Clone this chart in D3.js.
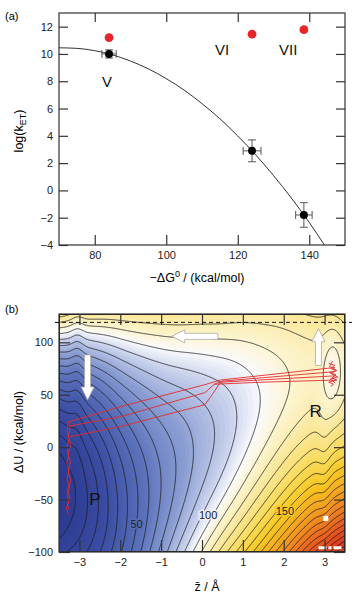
<!DOCTYPE html>
<html>
<head>
<meta charset="utf-8">
<script src="https://cdn.jsdelivr.net/npm/d3@7"></script>
<style>
body { margin: 0; background: #fff; }
svg { display: block; font-family: "Liberation Sans", Arial, sans-serif; }
</style>
</head>
<body>
<svg id="chart" width="357" height="596"></svg>
<script>
// ---- panel (a): rate vs driving force ----
const seriesNames = ['V', 'VI', 'VII'];
const minusDG = [84, 124, 138.5];
const logK = [10.0, 2.9, -1.8];
const minusDGErr = [2.0, 2.5, 2.3];
const logKErr = [0.3, 0.8, 0.9];
const logKCalc = [11.2, 11.45, 11.78];
const nameG = [83.4, 115.6, 134.1];
const nameLogK = [7.6, 9.9, 9.9];
// fitted curve
const fitG = [70, 75, 80, 85, 90, 95, 100, 105, 110, 115, 120, 125, 130, 135, 140, 145];
const fitLogK = [10.45, 10.41, 10.24, 9.93, 9.48, 8.91, 8.19, 7.35, 6.36, 5.25, 3.99, 2.61, 1.09, -0.56, -2.35, -4.3];
const xTicksA = [80, 100, 120, 140];
const yTicksA = [-4, -2, 0, 2, 4, 6, 8, 10, 12];

// ---- panel (b): free energy surface F(z, dU) ----
const zTicks = [-3, -2, -1, 0, 1, 2, 3];
const uTicks = [-100, -50, 0, 50, 100];
// per column of z: position, curvature and depth of the well along dU
const zKnots = [-3.5, -3, -2.5, -2, -1.5, -1, -0.5, 0, 0.5, 1, 1.5, 2, 2.5, 3, 3.5];
const wellU = [-46, -50, -55, -59, -52, -35, -15, 3, 18, 33, 47, 60, 68, 72, 73];
const wellK = [238, 278, 337, 420, 465, 469, 427, 406, 374, 384, 370, 345, 300, 260, 230];
const wellF = [0, 9, 22, 38, 52, 65, 74, 82, 88, 95, 101, 106, 110, 112, 114];
// local dips (bumps of the contours near the electrodes, basin R)
const dipZ = [-3.05, 3.22, 3.0];
const dipU = [80, 71, -20];
const dipDepth = [5, 10, 5];
const dipSZ = [0.12, 0.18, 0.12];
const dipSU = [60, 35, 50];
const levelStep = 50 / 7;
const labelLevels = [50, 100, 150];
const labelZ = [-1.6, 0.15, 2.03];
const labelU = [-77, -69, -65];
const colorF = [0, 30, 55, 75, 90, 100, 108, 118, 135, 150, 168, 188, 208, 230];
const colorHex = ['#2b3990', '#3d50a5', '#5b72bb', '#8a9dd2', '#c5cfeb', '#fafafd', '#fdf4cf', '#fbe9a0',
  '#f9da5a', '#f7c822', '#f4a61f', '#ef7d20', '#e6571f', '#dd381e'];
const dashedU = 119;

const trajectories = [
  [[-3.28, 24], [-1.96, 39], [0.07, 59.6], [0.45, 64], [3.25, 76]],
  [[-3.26, 20], [-1.96, 29.4], [0.07, 52], [0.3, 60], [0.5, 63], [3.25, 72]],
  [[-3.22, 10], [-1.96, 20], [0.07, 40.5], [0.25, 50], [0.45, 62], [3.25, 68]],
  [[0.3, 60], [1.5, 62], [3.25, 64]]
];
const scribbleP = [
  [[-3.27, 24], [-3.3, 15], [-3.25, 8], [-3.3, 0], [-3.26, -8], [-3.31, -15], [-3.25, -22], [-3.3, -30], [-3.24, -38], [-3.3, -45], [-3.26, -52], [-3.32, -58], [-3.27, -64]],
  [[-3.22, 20], [-3.27, 10], [-3.21, 2], [-3.28, -6], [-3.22, -14], [-3.27, -24], [-3.21, -32], [-3.29, -41], [-3.23, -48], [-3.3, -55], [-3.24, -60]]
];
const scribbleR = [
  [[3.1, 80], [3.25, 78], [3.15, 75], [3.3, 73], [3.12, 71], [3.28, 69], [3.18, 66], [3.3, 64], [3.1, 62], [3.22, 60], [3.15, 58]],
  [[3.2, 82], [3.12, 77], [3.27, 74], [3.17, 70], [3.32, 67], [3.14, 65], [3.26, 61]]
];
// white arrows: [z0, U0, z1, U1]
const arrows = [[-2.8, 88, -2.8, 45], [0.39, 105.7, -0.74, 105.7], [2.85, 78, 2.85, 113]];

const svg = d3.select('#chart');

// ================= panel (a) =================
const xA = d3.scaleLinear().domain([70, 150]).range([59, 345]);
const yA = d3.scaleLinear().domain([-4, 13]).range([245, 13]);

svg.append('clipPath').attr('id', 'clipA')
  .append('rect').attr('x', 59).attr('y', 13).attr('width', 286).attr('height', 232);

const gA = svg.append('g');

gA.append('path')
  .datum(fitG.map((g, i) => [g, fitLogK[i]]))
  .attr('clip-path', 'url(#clipA)')
  .attr('fill', 'none')
  .attr('stroke', '#333')
  .attr('stroke-width', 1)
  .attr('d', d3.line().x(d => xA(d[0])).y(d => yA(d[1])).curve(d3.curveMonotoneX));

// error bars
minusDG.forEach((g, i) => {
  const eb = gA.append('g').attr('stroke', '#555').attr('stroke-width', 1);
  eb.append('line').attr('x1', xA(g - minusDGErr[i])).attr('x2', xA(g + minusDGErr[i]))
    .attr('y1', yA(logK[i])).attr('y2', yA(logK[i]));
  eb.append('line').attr('x1', xA(g)).attr('x2', xA(g))
    .attr('y1', yA(logK[i] - logKErr[i])).attr('y2', yA(logK[i] + logKErr[i]));
  [g - minusDGErr[i], g + minusDGErr[i]].forEach(v => eb.append('line')
    .attr('x1', xA(v)).attr('x2', xA(v)).attr('y1', yA(logK[i]) - 4).attr('y2', yA(logK[i]) + 4));
  [logK[i] - logKErr[i], logK[i] + logKErr[i]].forEach(v => eb.append('line')
    .attr('x1', xA(g) - 4).attr('x2', xA(g) + 4).attr('y1', yA(v)).attr('y2', yA(v)));
});

gA.selectAll('circle.meas').data(minusDG).enter().append('circle')
  .attr('class', 'meas')
  .attr('cx', d => xA(d)).attr('cy', (d, i) => yA(logK[i])).attr('r', 4).attr('fill', '#000');

gA.selectAll('circle.calc').data(minusDG).enter().append('circle')
  .attr('class', 'calc')
  .attr('cx', d => xA(d)).attr('cy', (d, i) => yA(logKCalc[i])).attr('r', 4.4).attr('fill', '#e8262a');

gA.selectAll('text.name').data(seriesNames).enter().append('text')
  .attr('class', 'name')
  .attr('x', (d, i) => xA(nameG[i])).attr('y', (d, i) => yA(nameLogK[i]))
  .attr('text-anchor', 'middle').attr('font-size', 15).attr('fill', '#111')
  .text(d => d);

function styleAxis(g) {
  g.select('.domain').remove();
  g.selectAll('.tick line').attr('stroke', '#333').attr('stroke-width', 1.2);
  g.selectAll('.tick text').attr('font-size', 11).attr('fill', '#222')
    .attr('font-family', '"Liberation Sans", Arial, sans-serif');
}

gA.append('g').attr('transform', 'translate(0,245)')
  .call(d3.axisBottom(xA).tickValues(xTicksA).tickSize(-10).tickPadding(6)).call(styleAxis);
gA.append('g').attr('transform', 'translate(0,13)')
  .call(d3.axisTop(xA).tickValues(xTicksA).tickSize(-9).tickFormat('')).call(styleAxis);
gA.append('g').attr('transform', 'translate(59,0)')
  .call(d3.axisLeft(yA).tickValues(yTicksA).tickSize(-9).tickPadding(6)).call(styleAxis);
gA.append('g').attr('transform', 'translate(345,0)')
  .call(d3.axisRight(yA).tickValues(yTicksA).tickSize(-9).tickFormat('')).call(styleAxis);

gA.append('rect').attr('x', 59).attr('y', 13).attr('width', 286).attr('height', 232)
  .attr('fill', 'none').attr('stroke', '#333').attr('stroke-width', 1.2);

svg.append('text').attr('x', 5).attr('y', 20).attr('font-size', 11).text('(a)');

const xTitleA = svg.append('text').attr('x', 197).attr('y', 282)
  .attr('text-anchor', 'middle').attr('font-size', 12.5);
xTitleA.append('tspan').text('\u2212\u0394G');
xTitleA.append('tspan').attr('font-size', 9).attr('dy', -5).text('0');
xTitleA.append('tspan').attr('dy', 5).text(' / (kcal/mol)');

const yTitleA = svg.append('text').attr('transform', 'translate(23,131) rotate(-90)')
  .attr('text-anchor', 'middle').attr('font-size', 12.5);
yTitleA.append('tspan').text('log(k');
yTitleA.append('tspan').attr('font-size', 9).attr('dy', 3).text('ET');
yTitleA.append('tspan').attr('dy', -3).text(')');

// ================= panel (b) =================
const xB = d3.scaleLinear().domain([-3.5, 3.5]).range([59, 345]);
const yB = d3.scaleLinear().domain([-100, 127]).range([552, 314]);
const x0 = 59, y0 = 314, nx = 286, ny = 238;

const iU = d3.interpolateBasis(wellU);
const iK = d3.interpolateBasis(wellK);
const iF = d3.interpolateBasis(wellF);

function fieldAt(z, u) {
  const t = (z - zKnots[0]) / (zKnots[zKnots.length - 1] - zKnots[0]);
  const m = iU(t), k = iK(t), c = iF(t);
  let f = c + (u - m) * (u - m) / k;
  dipZ.forEach((dz, i) => {
    f -= dipDepth[i] * Math.exp(-0.5 * ((z - dz) / dipSZ[i]) ** 2 - 0.5 * ((u - dipU[i]) / dipSU[i]) ** 2);
  });
  return f;
}

const values = new Array(nx * ny);
for (let j = 0; j < ny; j++) {
  for (let i = 0; i < nx; i++) {
    values[j * nx + i] = fieldAt(xB.invert(x0 + i + 0.5), yB.invert(y0 + j + 0.5));
  }
}

const color = d3.scaleLinear().domain(colorF).range(colorHex).clamp(true);

svg.append('clipPath').attr('id', 'clipB')
  .append('rect').attr('x', x0).attr('y', y0).attr('width', nx).attr('height', ny);

const gB = svg.append('g');
const gMap = gB.append('g').attr('clip-path', 'url(#clipB)');
const gGrid = gMap.append('g').attr('transform', `translate(${x0},${y0})`);
const geo = d3.geoPath();

gGrid.append('rect').attr('width', nx).attr('height', ny).attr('fill', color(d3.min(values)));
const bandLevels = d3.range(-4, 262, 1.5);
gGrid.selectAll('path.band')
  .data(d3.contours().size([nx, ny]).thresholds(bandLevels)(values))
  .enter().append('path')
  .attr('class', 'band')
  .attr('d', geo)
  .attr('fill', d => color(d.value + 0.75));

const lineLevels = d3.range(1, 40).map(k => k * levelStep);
gGrid.selectAll('path.iso')
  .data(d3.contours().size([nx, ny]).thresholds(lineLevels)(values))
  .enter().append('path')
  .attr('class', 'iso')
  .attr('d', geo)
  .attr('fill', 'none')
  .attr('stroke', '#1a1a1a')
  .attr('stroke-width', 0.8);

// contour labels, with a halo of the local colour to break the line
gMap.selectAll('text.clab').data(labelLevels).enter().append('text')
  .attr('class', 'clab')
  .attr('x', (d, i) => xB(labelZ[i])).attr('y', (d, i) => yB(labelU[i]))
  .attr('text-anchor', 'middle').attr('font-size', 11).attr('fill', '#222')
  .attr('stroke', (d, i) => color(fieldAt(labelZ[i], labelU[i] + 4)))
  .attr('stroke-width', 3).attr('paint-order', 'stroke')
  .text(d => d);

// white markers bottom right
gMap.append('rect').attr('x', xB(3.03) - 2.5).attr('y', yB(-68) - 2.5)
  .attr('width', 5).attr('height', 5).attr('fill', '#fff');
gMap.append('line').attr('x1', xB(2.85)).attr('x2', xB(3.45)).attr('y1', yB(-96)).attr('y2', yB(-96))
  .attr('stroke', '#fff').attr('stroke-width', 3).attr('stroke-dasharray', '8,2,3,2');

// trajectories
const lineB = d3.line().x(d => xB(d[0])).y(d => yB(d[1]));
gMap.selectAll('path.traj').data(trajectories.concat(scribbleP, scribbleR)).enter().append('path')
  .attr('class', 'traj')
  .attr('d', lineB)
  .attr('fill', 'none')
  .attr('stroke', '#e52a2a')
  .attr('stroke-width', 0.9);

// white arrows
arrows.forEach(a => {
  const p0 = [xB(a[0]), yB(a[1])], p1 = [xB(a[2]), yB(a[3])];
  const dx = p1[0] - p0[0], dy = p1[1] - p0[1];
  const len = Math.hypot(dx, dy), ux = dx / len, uy = dy / len, px = -uy, py = ux;
  const hl = 13, sw = 3, hw = 6.5;
  const bx = p1[0] - ux * hl, by = p1[1] - uy * hl;
  const pts = [
    [p0[0] + px * sw, p0[1] + py * sw], [bx + px * sw, by + py * sw], [bx + px * hw, by + py * hw],
    p1, [bx - px * hw, by - py * hw], [bx - px * sw, by - py * sw], [p0[0] - px * sw, p0[1] - py * sw]
  ];
  gMap.append('polygon').attr('points', pts.map(p => p.join(',')).join(' '))
    .attr('fill', '#fff').attr('stroke', '#aaa').attr('stroke-width', 0.8);
});

gMap.append('text').attr('x', xB(-2.62)).attr('y', yB(-55)).attr('text-anchor', 'middle')
  .attr('font-size', 17).attr('fill', '#111').text('P');
gMap.append('text').attr('x', xB(2.78)).attr('y', yB(29)).attr('text-anchor', 'middle')
  .attr('font-size', 17).attr('fill', '#111').text('R');

const fmt = d3.format('d');
gB.append('g').attr('transform', 'translate(0,552)')
  .call(d3.axisBottom(xB).tickValues(zTicks).tickFormat(fmt).tickSize(-12).tickPadding(6)).call(styleAxis);
gB.append('g').attr('transform', 'translate(0,314)')
  .call(d3.axisTop(xB).tickValues(zTicks).tickSize(-11).tickFormat('')).call(styleAxis);
gB.append('g').attr('transform', 'translate(59,0)')
  .call(d3.axisLeft(yB).tickValues(uTicks).tickFormat(fmt).tickSize(-11).tickPadding(6)).call(styleAxis);
gB.append('g').attr('transform', 'translate(345,0)')
  .call(d3.axisRight(yB).tickValues(uTicks).tickSize(-11).tickFormat('')).call(styleAxis);

gB.append('rect').attr('x', x0).attr('y', y0).attr('width', nx).attr('height', ny)
  .attr('fill', 'none').attr('stroke', '#333').attr('stroke-width', 1.2);

gB.append('line').attr('x1', 55).attr('x2', 352).attr('y1', yB(dashedU)).attr('y2', yB(dashedU))
  .attr('stroke', '#111').attr('stroke-width', 1).attr('stroke-dasharray', '4,3');

svg.append('text').attr('x', 5).attr('y', 313).attr('font-size', 11).text('(b)');

svg.append('text').attr('transform', 'translate(23,432) rotate(-90)')
  .attr('text-anchor', 'middle').attr('font-size', 12.5).text('\u0394U / (kcal/mol)');

svg.append('text').attr('x', 207).attr('y', 591).attr('text-anchor', 'middle')
  .attr('font-size', 12.5).text('z\u0304  / \u00c5');
</script>
</body>
</html>
